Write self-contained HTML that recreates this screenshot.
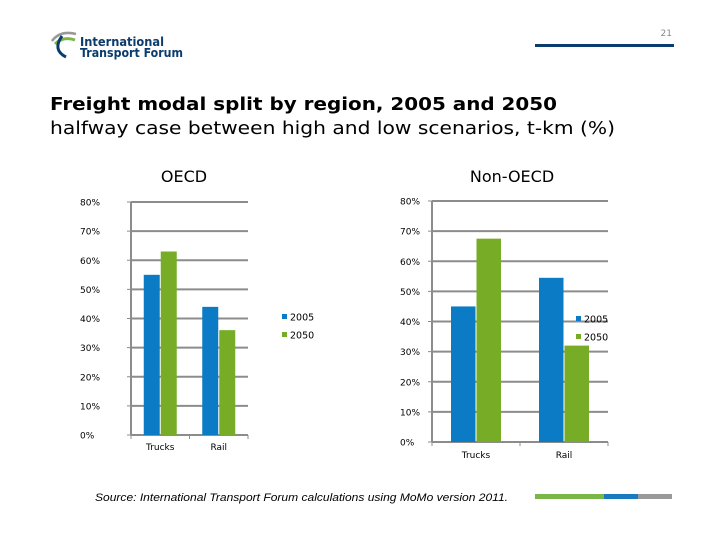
<!DOCTYPE html>
<html><head><meta charset="utf-8"><style>
html,body{margin:0;padding:0;background:#fff;}
svg{display:block;font-family:"DejaVu Sans","Liberation Sans",sans-serif;}
</style></head><body>
<svg id="s" width="720" height="540" viewBox="0 0 720 540">
<text x="672" y="36" font-size="9" fill="#888" text-anchor="end">21</text>
<rect x="535" y="44" width="139" height="3" fill="#0b3c6e"/>
<g>
<path d="M52,41 Q60,30 76,34" stroke="#999" stroke-width="2.5" fill="none"/>
<path d="M55,44 Q63,36 75,40" stroke="#7ab648" stroke-width="3" fill="none"/>
<path d="M62,36 Q52,50 66,57" stroke="#0b3c6e" stroke-width="3" fill="none"/>
<text x="80" y="46" font-size="12.5" font-weight="bold" fill="#0b3c6e" textLength="84" lengthAdjust="spacingAndGlyphs">International</text>
<text x="80" y="57" font-size="12.5" font-weight="bold" fill="#0b3c6e" textLength="103" lengthAdjust="spacingAndGlyphs">Transport Forum</text>
</g>
<text x="50" y="110" font-size="18" font-weight="bold" fill="#000" textLength="507" lengthAdjust="spacingAndGlyphs">Freight modal split by region, 2005 and 2050</text>
<text x="50" y="134" font-size="18" fill="#000" textLength="565" lengthAdjust="spacingAndGlyphs">halfway case between high and low scenarios, t-km (%)</text>
<text x="184" y="182" font-size="16" text-anchor="middle">OECD</text>
<text x="512" y="182" font-size="16" text-anchor="middle">Non-OECD</text>
<text x="95" y="501" font-size="11" font-style="italic" font-family="Liberation Sans, sans-serif" textLength="413" lengthAdjust="spacingAndGlyphs">Source: International Transport Forum calculations using MoMo version 2011.</text>
<rect x="535" y="494" width="69" height="5" fill="#7ab648"/>
<rect x="604" y="494" width="34" height="5" fill="#1a7abf"/>
<rect x="638" y="494" width="34" height="5" fill="#999"/>
<g id="charts"></g>
</svg>
<script>
const categories = ["Trucks", "Rail"];
const seriesNames = ["2005", "2050"];
const oecd2005 = [55, 44];
const oecd2050 = [63, 36];
const non2005 = [45, 54.5];
const non2050 = [67.5, 32];
const tickValues = [0, 10, 20, 30, 40, 50, 60, 70, 80];
const tickLabels = ["0%", "10%", "20%", "30%", "40%", "50%", "60%", "70%", "80%"];
const colors = ["#0a7bc4", "#77ad26"];
const NS = "http://www.w3.org/2000/svg";
const root = document.getElementById("charts");
function mk(tag, attrs, parent) {
  const e = document.createElementNS(NS, tag);
  for (const k in attrs) e.setAttribute(k, attrs[k]);
  parent.appendChild(e); return e;
}
function drawChart(prefix, cfg, s1, s2) {
  const g = mk("g", {}, root);
  
  
  const y = v => cfg.y0 - (v / 80) * (cfg.y0 - cfg.y80);
  const catW = (cfg.x1 - cfg.x0) / categories.length;
  tickValues.forEach((v, i) => {
    if (v > 0) {
      const l = mk("line", {x1: cfg.x0, x2: cfg.x1, y1: y(v), y2: y(v), stroke: "#8c8c8c", "stroke-width": 2}, g);
      
      
    }
    const tl = mk("line", {x1: cfg.x0 - 4, x2: cfg.x0, y1: y(v), y2: y(v), stroke: "#8c8c8c", "stroke-width": 1}, g);
    
    
    const t = mk("text", {x: cfg.lx, y: y(v) + 3.5, "font-size": 9, fill: "#000"}, g);
    t.textContent = tickLabels[i];
    
    
  });
  const ax = mk("line", {x1: cfg.x0, x2: cfg.x0, y1: cfg.y80, y2: cfg.y0, stroke: "#8c8c8c", "stroke-width": 2}, g);
  
  
  const bx = mk("line", {x1: cfg.x0, x2: cfg.x1, y1: cfg.y0, y2: cfg.y0, stroke: "#8c8c8c", "stroke-width": 2}, g);
  
  
  for (let i = 0; i <= categories.length; i++) {
    const xt = cfg.x0 + i * catW;
    const tk = mk("line", {x1: xt, x2: xt, y1: cfg.y0, y2: cfg.y0 + 4, stroke: "#8c8c8c", "stroke-width": 1}, g);
    
    
  }
  categories.forEach((c, i) => {
    const cx = cfg.x0 + (i + 0.5) * catW;
    [s1, s2].forEach((s, j) => {
      const bx0 = cx - cfg.bw + j * cfg.bw + (j ? 0.5 : -0.5);
      const r = mk("rect", {x: bx0, y: y(s[i]), width: cfg.bw, height: cfg.y0 - y(s[i]), fill: colors[j]}, g);
      
      
    });
    const t = mk("text", {x: cx, y: cfg.y0 + cfg.cy, "font-size": 9, "text-anchor": "middle"}, g);
    t.textContent = c;
    
    
  });
  seriesNames.forEach((n, j) => {
    const ly = cfg.legY + j * 18;
    const sq = mk("rect", {x: cfg.legX, y: ly - 3, width: 5, height: 5, fill: colors[j]}, g);
    
    
    const t = mk("text", {x: cfg.legX + 8, y: ly + 3.5, "font-size": 9.5}, g);
    t.textContent = n;
    
    
  });
}
drawChart("oecd", {x0: 131, x1: 248, y0: 435, y80: 202, bw: 16, lx: 80, cy: 15, legX: 282, legY: 317}, oecd2005, oecd2050);
drawChart("non-oecd", {x0: 432, x1: 608, y0: 442, y80: 201, bw: 24.5, lx: 400, cy: 16, legX: 576, legY: 319}, non2005, non2050);
</script>
</body></html>
